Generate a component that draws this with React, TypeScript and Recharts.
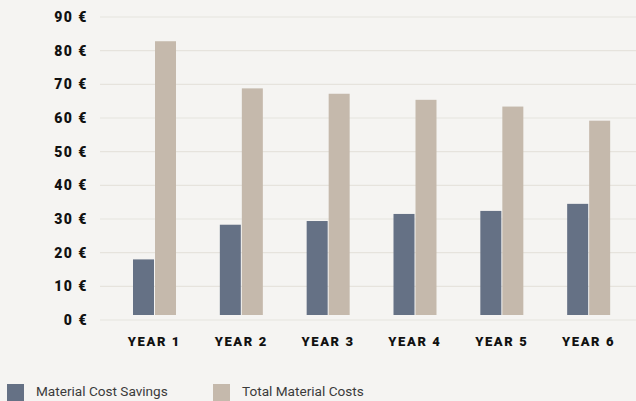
import React from "react";
import { BarChart, Bar, XAxis, YAxis, CartesianGrid, Legend } from "recharts";

const categories = ["YEAR 1", "YEAR 2", "YEAR 3", "YEAR 4", "YEAR 5", "YEAR 6"];
const savings = [18, 28.3, 29.4, 31.5, 32.4, 34.5];
const totals = [82.8, 68.8, 67.2, 65.4, 63.4, 59.2];
const yTicks = [0, 10, 20, 30, 40, 50, 60, 70, 80, 90];
const seriesNames = ["Material Cost Savings", "Total Material Costs"];
const seriesColors = ["#657185", "#c5b9ac"];

const data = categories.map((c, i) => ({ name: c, savings: savings[i], totals: totals[i] }));

const BarShape = (props: any) => {
  const { x, y, width, height, fill } = props;
  const h = Math.max(0, height - 5);
  return <rect x={x} y={y} width={width} height={h} fill={fill} />;
};

const LegendContent = () => (
  <div style={{ position: "relative", width: 636, height: 17, fontFamily: "Roboto", fontSize: 13.6, color: "#3b3b3b" }}>
    {seriesNames.map((n, i) => (
      <div key={n} style={{ position: "absolute", left: i === 0 ? 7 : 213, top: 0, height: 17, display: "flex", alignItems: "center" }}>
        <div style={{ width: 17, height: 17, background: seriesColors[i] }} />
        <span style={{ marginLeft: 12, lineHeight: "17px", position: "relative", top: -1 }}>{n}</span>
      </div>
    ))}
  </div>
);

export default function App() {
  return (
    <div style={{ position: "absolute", left: 0, top: 0, width: 636, height: 401, background: "#f5f4f2", overflow: "hidden" }}>
      <BarChart
        width={636}
        height={401}
        data={data}
        margin={{ top: 17, right: 0, left: 0, bottom: 51 }}
        barSize={21}
        barGap={1}
      >
        <CartesianGrid vertical={false} stroke="#e6e3dd" strokeWidth={1.2} />
        <XAxis
          dataKey="name"
          height={30}
          axisLine={false}
          tickLine={false}
          tickSize={0}
          tickMargin={17}
          padding={{ left: 11, right: 4 }}
          tick={{ fill: "#111111", fontFamily: "Roboto", fontWeight: 900, fontSize: 13, letterSpacing: 1.6 }}
        />
        <YAxis
          width={100}
          domain={[0, 90]}
          ticks={yTicks}
          interval={0}
          axisLine={false}
          tickLine={false}
          tickSize={0}
          tickMargin={12}
          tickFormatter={(v: number) => `${v} €`}
          tick={{ fill: "#111111", fontFamily: "Roboto", fontWeight: 900, fontSize: 14, letterSpacing: 1.5 }}
        />
        <Legend
          layout="horizontal"
          verticalAlign="middle"
          align="center"
          wrapperStyle={{ top: 384, left: 0, width: 636, height: 17 }}
          content={() => <LegendContent />}
        />
        <Bar dataKey="savings" name={seriesNames[0]} fill={seriesColors[0]} shape={<BarShape />} isAnimationActive={false} />
        <Bar dataKey="totals" name={seriesNames[1]} fill={seriesColors[1]} shape={<BarShape />} isAnimationActive={false} />
      </BarChart>
    </div>
  );
}
